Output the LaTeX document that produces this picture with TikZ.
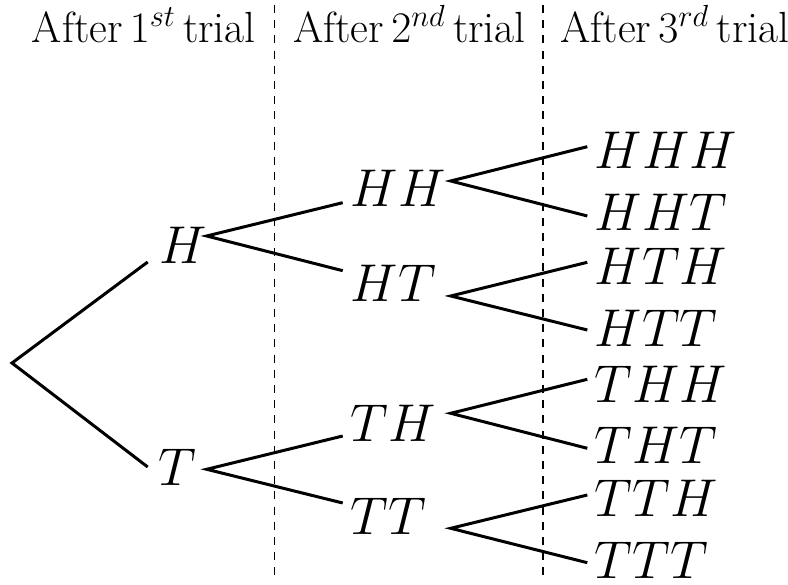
\RequirePackage{fix-cm}
\documentclass[tikz,border=0pt]{standalone}
\newcommand{\hdtext}[1]{\scalebox{0.545}{\fontsize{20}{24}\selectfont #1}}
\begin{document}
\begin{tikzpicture}[x=0.25pt,y=-0.25pt,
  br/.style={line width=0.75pt, line join=miter},
  sep/.style={line width=0.45pt, dash pattern=on 2pt off 1.8pt},
  hd/.style={inner sep=0pt, anchor=base west},
  lb/.style={font=\fontsize{13.3}{16}\selectfont, inner sep=0pt, anchor=base west}]
\useasboundingbox (0,0) rectangle (788,585);
% separators
\coordinate (s1t) at (274.5,5); \coordinate (s1b) at (274.5,580);
\coordinate (s2t) at (542.7,5); \coordinate (s2b) at (542.7,580);
\draw[sep] (s1t) -- (s1b);
\draw[sep] (s2t) -- (s2b);
% headers
\node[hd] (h1) at (31,42.7) {\hdtext{After\,$1^{st}$\,trial}};
\node[hd] (h2) at (292.5,42.7) {\hdtext{After\,$2^{nd}$\,trial}};
\node[hd] (h3) at (559.5,42.7) {\hdtext{After\,$3^{rd}$\,trial}};
% labels
\node[lb] (H) at (159,264) {$H$};
\node[lb] (T) at (158,485) {$T$};
\node[lb] (HH) at (350,207) {$HH$};
\node[lb] (HT) at (350,301.5) {$HT$};
\node[lb] (TH) at (350,441) {$TH$};
\node[lb] (TT) at (350,534) {$TT$};
\node[lb] (HHH) at (594,169) {$HHH$};
\node[lb] (HHT) at (594,231) {$HHT$};
\node[lb] (HTH) at (594,285) {$HTH$};
\node[lb] (HTT) at (594,346.5) {$HTT$};
\node[lb] (THH) at (594,402.7) {$THH$};
\node[lb] (THT) at (594,464) {$THT$};
\node[lb] (TTH) at (594,516.7) {$TTH$};
\node[lb] (TTT) at (594,578) {$TTT$};
% branch points
\coordinate (root) at (12,363);
\coordinate (Hin) at (147.7,262); \coordinate (Tin) at (147.7,467);
\coordinate (Hf) at (206.7,236); \coordinate (Tf) at (206.7,469.3);
\coordinate (HHin) at (342.7,202.7); \coordinate (HTin) at (342.7,270.7);
\coordinate (THin) at (342.7,436); \coordinate (TTin) at (342.7,503);
\coordinate (HHf) at (450.7,181); \coordinate (HTf) at (450.7,296);
\coordinate (THf) at (450.7,413.3); \coordinate (TTf) at (450.7,528.3);
\coordinate (HHHin) at (587.3,146.7); \coordinate (HHTin) at (587.3,216);
\coordinate (HTHin) at (587.3,262.3); \coordinate (HTTin) at (587.3,330);
\coordinate (THHin) at (587.3,379.3); \coordinate (THTin) at (587.3,448.3);
\coordinate (TTHin) at (587.3,495); \coordinate (TTTin) at (587.3,562.7);
% branches
\draw[br] (Hin) -- (root) -- (Tin);
\draw[br] (HHin) -- (Hf) -- (HTin);
\draw[br] (THin) -- (Tf) -- (TTin);
\draw[br] (HHHin) -- (HHf) -- (HHTin);
\draw[br] (HTHin) -- (HTf) -- (HTTin);
\draw[br] (THHin) -- (THf) -- (THTin);
\draw[br] (TTHin) -- (TTf) -- (TTTin);
\end{tikzpicture}
\end{document}
